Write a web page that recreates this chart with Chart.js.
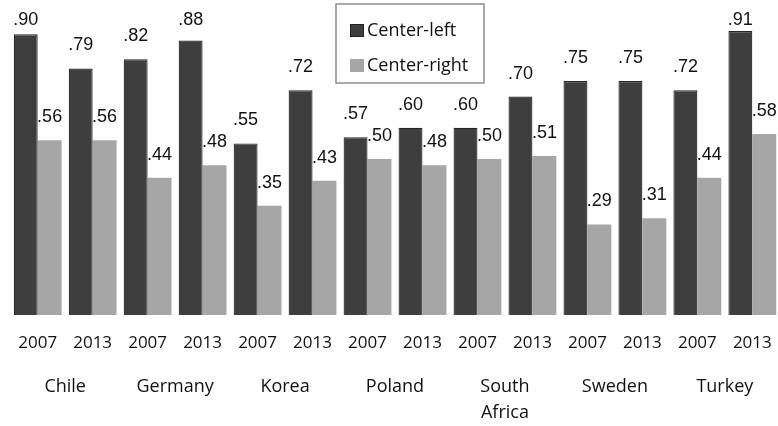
<!DOCTYPE html>
<html>
<head>
<meta charset="utf-8">
<script src="https://cdn.jsdelivr.net/npm/chart.js@4.4.0/dist/chart.umd.min.js"></script>
<style>
html,body{margin:0;padding:0;background:#fff;overflow:hidden;}
#wrap{width:778px;height:426px;overflow:hidden;position:relative;}
canvas{display:block;}
</style>
</head>
<body>
<div id="wrap"><canvas id="c" width="790" height="426"></canvas></div>
<script>
const years = ["2007","2013","2007","2013","2007","2013","2007","2013","2007","2013","2007","2013","2007","2013"];
const countries = ["Chile","Germany","Korea","Poland",["South","Africa"],"Sweden","Turkey"];
const centerLeft = [0.90,0.79,0.82,0.88,0.55,0.72,0.57,0.60,0.60,0.70,0.75,0.75,0.72,0.91];
const centerRight = [0.56,0.56,0.44,0.48,0.35,0.43,0.50,0.48,0.50,0.51,0.29,0.31,0.44,0.58];
const seriesNames = ["Center-left","Center-right"];

const AXIS_FONT = "'Open Sans', sans-serif";
const VALUE_FONT = "'Liberation Sans', Arial, sans-serif";

const valueLabels = {
  id:'valueLabels',
  afterDatasetsDraw(chart){
    const ctx = chart.ctx;
    ctx.save();
    ctx.font = "18px " + VALUE_FONT;
    ctx.fillStyle = "#111";
    ctx.textAlign = "center";
    ctx.textBaseline = "middle";
    chart.data.datasets.forEach((ds, di) => {
      const meta = chart.getDatasetMeta(di);
      meta.data.forEach((bar, i) => {
        const v = ds.data[i];
        const txt = v.toFixed(2).replace(/^0/, "");
        const y = Math.max(bar.y - 23, 20);
        ctx.fillText(txt, bar.x, y);
      });
    });
    ctx.restore();
  }
};

const boxLegend = {
  id:'boxLegend',
  afterDraw(chart){
    const ctx = chart.ctx;
    ctx.save();
    ctx.strokeStyle = "#8c8c8c";
    ctx.lineWidth = 1.5;
    ctx.fillStyle = "#fff";
    ctx.fillRect(336, 4, 148, 79);
    ctx.strokeRect(336, 4, 148, 79);
    ctx.font = "18px " + AXIS_FONT;
    ctx.textBaseline = "middle";
    ctx.textAlign = "left";
    const ys = [31, 66];
    chart.data.datasets.forEach((ds, i) => {
      ctx.fillStyle = ds.backgroundColor;
      ctx.fillRect(350, ys[i]-7, 14, 13);
      if (i === 0) {
        ctx.strokeStyle = "#222";
        ctx.lineWidth = 1;
        ctx.strokeRect(350.5, ys[i]-6.5, 13, 12);
      }
      ctx.fillStyle = "#111";
      ctx.fillText(ds.label, 367, ys[i]);
    });
    ctx.restore();
  }
};

new Chart(document.getElementById('c'), {
  type:'bar',
  data:{
    labels: years,
    datasets:[
      {label: seriesNames[0], data: centerLeft, backgroundColor:'#3e3e3e', borderColor:'#262626', borderWidth:1.2, categoryPercentage:0.87, barPercentage:1},
      {label: seriesNames[1], data: centerRight, backgroundColor:'#a6a6a6', borderWidth:0, categoryPercentage:0.87, barPercentage:1}
    ]
  },
  options:{
    responsive:false,
    animation:false,
    devicePixelRatio:1,
    layout:{padding:{left:8.4, right:8.4, top:3, bottom:0}},
    plugins:{legend:{display:false}, tooltip:{enabled:false}},
    scales:{
      y:{display:false, min:0, max:1},
      x:{
        weight:0,
        grid:{display:false, drawTicks:false},
        border:{display:false},
        ticks:{font:{family:AXIS_FONT, size:17}, color:'#111', padding:18, maxRotation:0, autoSkip:false},
        afterFit(s){ s.height = 50; }
      },
      x2:{
        type:'category',
        position:'bottom',
        weight:1,
        labels: countries,
        offset:true,
        grid:{display:false, drawTicks:false},
        border:{display:false},
        ticks:{font:{family:AXIS_FONT, size:18, lineHeight:1.45}, color:'#111', padding:9, maxRotation:0, autoSkip:false},
        afterFit(s){ s.height = 61; }
      }
    }
  },
  plugins:[valueLabels, boxLegend]
});
</script>
</body>
</html>
